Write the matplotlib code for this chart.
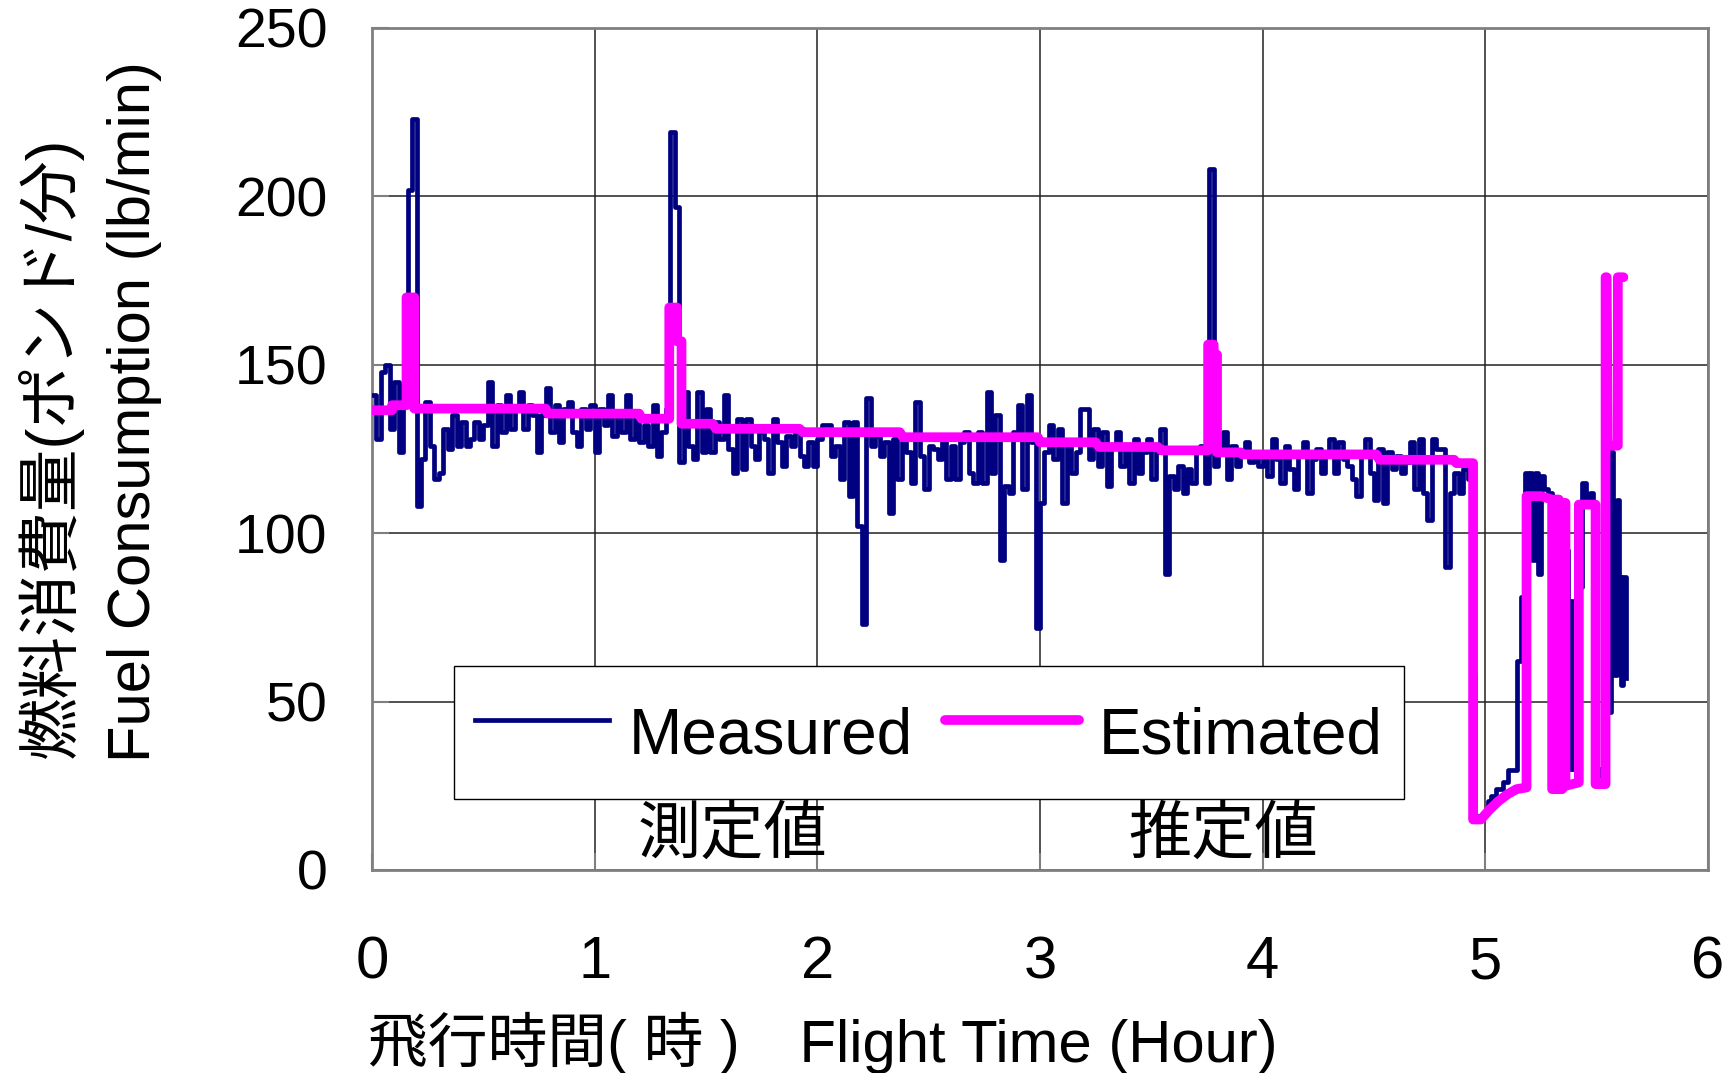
import numpy as np
import matplotlib
matplotlib.use('Agg')
import matplotlib.pyplot as plt

plt.rcParams['font.family'] = ['Liberation Sans', 'Noto Sans CJK JP', 'DejaVu Sans']

# ---------------- data ----------------
# measured fuel flow during cruise, one value every 0.02 h starting at 0 h
meas_step = 0.02
meas_cruise = [
    141, 128, 148, 150, 131, 145, 124, 144, 202, 223,
    108, 122, 139, 126, 116, 118, 131, 125, 135, 126,
    133, 126, 128, 133, 128, 132, 145, 126, 138, 130,
    141, 131, 137, 142, 131, 138, 135, 124, 135, 143,
    130, 138, 127, 137, 139, 130, 126, 137, 131, 138,
    124, 137, 132, 141, 129, 136, 130, 141, 128, 135,
    127, 132, 126, 138, 123, 130, 137, 219, 197, 121,
    142, 126, 122, 142, 124, 137, 124, 133, 128, 141,
    125, 118, 134, 119, 134, 126, 122, 130, 128, 118,
    134, 127, 120, 129, 126, 131, 123, 120, 127, 120,
    128, 132, 132, 123, 126, 116, 133, 111, 133, 102,
    73, 140, 126, 129, 123, 127, 106, 128, 116, 127,
    124, 115, 139, 123, 113, 126, 125, 122, 127, 116,
    126, 116, 127, 130, 118, 115, 130, 115, 142, 118,
    135, 92, 114, 112, 130, 138, 113, 141, 127, 72,
    109, 124, 132, 122, 131, 109, 126, 118, 124, 137,
    137, 122, 131, 120, 130, 114, 126, 130, 120, 125,
    115, 128, 118, 124, 128, 116, 124, 131, 88, 117,
    113, 120, 112, 119, 115, 124, 126, 115, 208, 120,
    124, 130, 116, 126, 120, 124, 127, 121, 124, 120,
    123, 117, 128, 122, 115, 126, 119, 113, 124, 127,
    112, 122, 125, 118, 123, 128, 118, 127, 122, 120,
    116, 111, 123, 128, 118, 110, 125, 109, 124, 119,
    123, 118, 121, 127, 113, 128, 112, 104, 128, 125,
    125, 90, 112, 118, 112, 119, 116,
]
# measured values during descent / approach (time in hours, value)
meas_end_t = [4.94, 4.95, 4.955, 4.99, 5.01, 5.025, 5.05, 5.08, 5.10, 5.14,
              5.16, 5.178, 5.19, 5.20, 5.21, 5.225, 5.235, 5.25, 5.265, 5.28,
              5.29, 5.30, 5.31, 5.325, 5.34, 5.355, 5.37, 5.385, 5.395, 5.41,
              5.425, 5.435, 5.45, 5.47, 5.485, 5.495, 5.52, 5.545, 5.555, 5.565,
              5.575, 5.59, 5.60, 5.61, 5.62, 5.63]
meas_end_v = [118, 58, 16, 17, 20.5, 22, 24, 26, 29.6, 62,
              81, 118, 104, 118, 92, 118, 88, 117, 113, 110,
              112, 108, 30, 100, 28, 95, 30, 80, 30, 31,
              84, 115, 108, 112, 107, 30, 28, 131, 47, 124,
              58, 110, 87, 55, 87, 57]

# estimated fuel flow (time in hours, value)
est_t = [0, 0.09, 0.09, 0.155, 0.155, 0.19, 0.19, 0.78, 0.79, 1.20,
         1.21, 1.335, 1.335, 1.37, 1.37, 1.39, 1.39, 1.53, 1.545, 1.92,
         1.935, 2.37, 2.385, 2.99, 3.0, 3.25, 3.265, 3.53, 3.545, 3.755,
         3.755, 3.78, 3.78, 3.795, 3.795, 3.90, 3.91, 4.51, 4.525, 4.86,
         4.87, 4.945, 4.945, 4.98, 5.02, 5.06, 5.10, 5.14, 5.185, 5.185,
         5.25, 5.30, 5.30, 5.315, 5.315, 5.33, 5.33, 5.345, 5.345, 5.36,
         5.36, 5.42, 5.42, 5.495, 5.495, 5.54, 5.54, 5.545, 5.55, 5.595,
         5.595, 5.62]
est_v = [136.5, 136.5, 138, 138, 170, 170, 137, 137, 135.5, 135.5,
         134, 134, 167, 167, 157, 157, 132.5, 132.5, 131, 131,
         130, 130, 128.5, 128.5, 127, 127, 125.6, 125.6, 124.6, 124.6,
         156, 156, 153, 153, 124, 124, 123.4, 123.4, 121.8, 121.8,
         120.8, 120.8, 15, 15, 18, 20.5, 22.5, 24, 24.5, 111,
         111, 110, 24, 24, 110, 110, 24, 24, 109, 109,
         25, 26, 108.5, 108.5, 25.5, 25.5, 176, 176, 126, 126,
         176, 176]

x_ticks = [0, 1, 2, 3, 4, 5, 6]
y_ticks = [0, 50, 100, 150, 200, 250]

# ---------------- figure ----------------
W, H = 1731, 1073
fig = plt.figure(figsize=(W / 100, H / 100), dpi=100)
ax = fig.add_axes([372 / W, 1 - 870 / H, (1708 - 372) / W, (870 - 28) / H])

t_cruise = np.arange(len(meas_cruise)) * meas_step
mt = np.concatenate([t_cruise, meas_end_t])
mv = np.concatenate([meas_cruise, meas_end_v])

ax.plot(mt, mv, drawstyle='steps-post', color='#000080', lw=3.4,
        label='Measured', zorder=3)
ax.plot(est_t, est_v, color='#FF00FF', lw=7.0, solid_capstyle='round',
        solid_joinstyle='round', label='Estimated', zorder=4)

ax.set_xlim(0, 6)
ax.set_ylim(0, 250)
ax.set_xticks(x_ticks)
ax.set_yticks(y_ticks)
ax.grid(True, color='#222222', lw=1.1)
ax.set_axisbelow(True)
for s in ax.spines.values():
    s.set_color('#808080')
    s.set_linewidth(2)
ax.tick_params(direction='in', length=12, width=1.5, color='#808080')
ax.tick_params(axis='y', pad=32, labelsize=40)
ax.tick_params(axis='x', pad=47, labelsize=43)

leg = ax.legend(loc='upper left', bbox_to_anchor=(0.0614, 0.242), ncol=2,
                fontsize=46, frameon=True, fancybox=False, edgecolor='black',
                framealpha=1, handlelength=2.1, handleheight=1.8,
                handletextpad=0.31, columnspacing=0.5, borderpad=0.33,
                borderaxespad=0)
leg.get_frame().set_linewidth(1.0)

ax.text(0.270, 0.040, '測定値', transform=ax.transAxes, ha='center',
        va='center', fontsize=45.5)
ax.text(0.637, 0.040, '推定値', transform=ax.transAxes, ha='center',
        va='center', fontsize=45.5)

fig.text(368 / W, 1 - 1062 / H, '飛行時間( 時 )\u3000Flight Time (Hour)',
         ha='left', va='baseline', fontsize=43)
fig.text(50 / W, 1 - 758 / H, '燃料消費量(ポンド/分)', rotation=90,
         ha='center', va='bottom', fontsize=45)
fig.text(135 / W, 1 - 762 / H, 'Fuel Consumption (lb/min)', rotation=90,
         ha='center', va='bottom', fontsize=43)

fig.savefig('out.png', dpi=100)
